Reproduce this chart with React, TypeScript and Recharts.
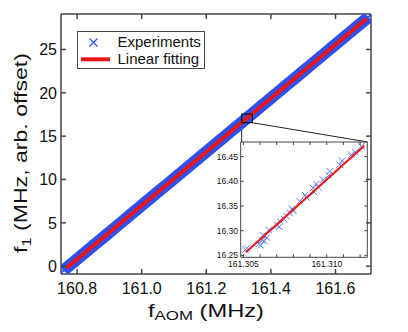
import React from 'react';
import { ScatterChart, Scatter, XAxis, YAxis, ReferenceArea, ReferenceLine, Legend } from 'recharts';

const FONT = '"Liberation Sans", Arial, Helvetica, sans-serif';
const FRAME = '#454545';
const BLUE = '#2f50ee';
const LIGHT_BLUE = '#5b7df6';
const RED = '#ee1414';

// ---- main panel data ----
const EXP_X = [
  160.76, 160.77, 160.79, 160.81, 160.83, 160.85, 160.87, 160.89, 160.91, 160.93, 160.95,
  160.97, 160.99, 161.01, 161.03, 161.05, 161.07, 161.09, 161.11, 161.13, 161.15,
  161.17, 161.19, 161.21, 161.23, 161.25, 161.27, 161.29, 161.31, 161.33, 161.35,
  161.37, 161.39, 161.41, 161.43, 161.45, 161.47, 161.49, 161.51, 161.53, 161.55,
  161.57, 161.59, 161.61, 161.63, 161.65, 161.67, 161.69, 161.70,
];
const EXP_Y = [
  -0.42, -0.11, 0.51, 1.13, 1.75, 2.37, 2.99, 3.6, 4.22, 4.84, 5.46,
  6.08, 6.7, 7.32, 7.94, 8.56, 9.18, 9.79, 10.41, 11.03, 11.65,
  12.27, 12.89, 13.51, 14.13, 14.75, 15.37, 15.98, 16.6, 17.22, 17.84,
  18.46, 19.08, 19.7, 20.32, 20.94, 21.56, 22.17, 22.79, 23.41, 24.03,
  24.65, 25.27, 25.89, 26.51, 27.13, 27.75, 28.36, 28.66,
];
const FIT_X = [160.767, 161.6964];
const FIT_Y = [-0.2, 28.55];

const X_TICKS = [160.8, 161.0, 161.2, 161.4, 161.6];
const Y_TICKS = [0, 5, 10, 15, 20, 25];
const X_DOMAIN = [160.75, 161.71];
const Y_DOMAIN = [-0.9, 29.09];

// zoom box & connectors (in main data coordinates)
const BOX_X = [161.3097, 161.3425];
const BOX_Y = [16.55, 17.55];
const CONNECT_LEFT = [{ x: 161.3095, y: 16.55 }, { x: 161.3095, y: 14.33 }];
const CONNECT_RIGHT = [{ x: 161.3425, y: 16.55 }, { x: 161.6993, y: 14.33 }];

// ---- inset data ----
const INSET_EXP_X = [
  161.30512, 161.3052, 161.30592, 161.30604, 161.30612, 161.30625, 161.30618, 161.3064,
  161.30652, 161.30704, 161.30715, 161.3072, 161.30744, 161.3076, 161.30778, 161.30792,
  161.308, 161.30838, 161.30878, 161.3087, 161.30924, 161.30918, 161.30938, 161.3095,
  161.30978, 161.31012, 161.31018, 161.31078, 161.31092, 161.31147, 161.31171, 161.31207,
];
const INSET_EXP_Y = [
  16.2613, 16.2642, 16.2729, 16.2705, 16.2816, 16.279, 16.2905, 16.286,
  16.3013, 16.3108, 16.308, 16.3189, 16.3235, 16.329, 16.3357, 16.3444,
  16.34, 16.3594, 16.3675, 16.372, 16.3782, 16.3864, 16.3945, 16.388,
  16.4032, 16.4121, 16.4202, 16.4336, 16.4417, 16.4538, 16.4593, 16.4708,
];
const INSET_FIT_X = [161.30515, 161.31225];
const INSET_FIT_Y = [16.256, 16.472];
const INSET_X_TICKS = [161.305, 161.306, 161.307, 161.308, 161.309, 161.31, 161.311, 161.312];
const INSET_X_LABELS = ['161.305', '161.310'];
const INSET_Y_TICKS = [16.25, 16.3, 16.35, 16.4, 16.45];
const INSET_X_DOMAIN = [161.30484, 161.31243];
const INSET_Y_DOMAIN = [16.246, 16.4796];

const zip = (xs: number[], ys: number[]) => xs.map((x, i) => ({ x, y: ys[i] }));

type Side = 'bottom' | 'top' | 'left' | 'right';

function tickRenderer(
  side: Side,
  len: number,
  sw: number,
  label: ((v: number) => string | null) | null,
  fontSize: number,
  gap: number,
) {
  return (props: any) => {
    const { x, y, payload } = props;
    const v = payload.value as number;
    const t = label ? label(v) : null;
    let x2 = x;
    let y2 = y;
    if (side === 'bottom') y2 = y - len;
    if (side === 'top') y2 = y + len;
    if (side === 'left') x2 = x + len;
    if (side === 'right') x2 = x - len;
    return (
      <g>
        <line x1={x} y1={y} x2={x2} y2={y2} stroke={FRAME} strokeWidth={sw} />
        {t !== null && side === 'bottom' && (
          <text x={x} y={y + gap} textAnchor="middle" fontSize={fontSize} fontFamily={FONT} fill="#111">
            {t}
          </text>
        )}
        {t !== null && side === 'left' && (
          <text x={x - gap} y={y + fontSize * 0.36} textAnchor="end" fontSize={fontSize} fontFamily={FONT} fill="#111">
            {t}
          </text>
        )}
      </g>
    );
  };
}

const ExpMarker = (props: any) => {
  const { cx, cy } = props;
  const s = 4;
  return (
    <path
      d={`M${cx - s},${cy - s}L${cx + s},${cy + s}M${cx - s},${cy + s}L${cx + s},${cy - s}`}
      stroke={BLUE}
      strokeWidth={1.8}
    />
  );
};

const InsetMarker = (props: any) => {
  const { cx, cy } = props;
  const s = 3.3;
  return (
    <path
      d={`M${cx - s},${cy - s}L${cx + s},${cy + s}M${cx - s},${cy + s}L${cx + s},${cy - s}`}
      stroke={LIGHT_BLUE}
      strokeWidth={1}
    />
  );
};

const NoMarker = () => <g />;

const renderLegend = (props: any) => {
  const items = (props.payload || []) as any[];
  return (
    <svg width={128} height={38} style={{ display: 'block' }}>
      <rect x={0.5} y={0.5} width={127} height={37} fill="#fff" stroke={FRAME} strokeWidth={1} />
      {items.map((it, i) => {
        const rowY = i === 0 ? 11.5 : 28.3;
        const icon =
          i === 0 ? (
            <path
              d={`M12.5,${rowY - 4}L20.5,${rowY + 4}M12.5,${rowY + 4}L20.5,${rowY - 4}`}
              stroke={BLUE}
              strokeWidth={1.2}
            />
          ) : (
            <line x1={4} y1={rowY} x2={33} y2={rowY} stroke={RED} strokeWidth={4} />
          );
        return (
          <g key={i}>
            {icon}
            <text x={40.5} y={rowY + 4.6} fontSize={15} fontFamily={FONT} fill="#111">
              {it.value}
            </text>
          </g>
        );
      })}
    </svg>
  );
};

const XTitle = () => (
  <text x={148} y={316.7} fontSize={19} fontFamily={FONT} fill="#111" textLength={116} lengthAdjust="spacingAndGlyphs">
    <tspan>f</tspan>
    <tspan fontSize={13.5} dy={3.5}>AOM</tspan>
    <tspan dy={-3.5}> (MHz)</tspan>
  </text>
);

const YTitle = () => (
  <text
    transform="translate(27,253) rotate(-90)"
    x={0}
    y={0}
    fontSize={19}
    fontFamily={FONT}
    fill="#111"
    textLength={200}
    lengthAdjust="spacingAndGlyphs"
  >
    <tspan>f</tspan>
    <tspan fontSize={13.5} dy={3.5}>1</tspan>
    <tspan dy={-3.5}> (MHz, arb. offset)</tspan>
  </text>
);

const axisLine = { stroke: FRAME, strokeWidth: 1.5 };
const insetAxisLine = { stroke: FRAME, strokeWidth: 1 };

export default function App() {
  const expData = zip(EXP_X, EXP_Y);
  const fitData = zip(FIT_X, FIT_Y);
  const insetExp = zip(INSET_EXP_X, INSET_EXP_Y);
  const insetFit = zip(INSET_FIT_X, INSET_FIT_Y);

  return (
    <div style={{ position: 'relative', width: 408, height: 332, background: '#fff', fontFamily: FONT }}>
      <style>{`body{margin:0}`}</style>
      <div style={{ position: 'absolute', left: 0, top: 0 }}>
        <ScatterChart width={408} height={332} margin={{ top: 13, right: 36, bottom: 57, left: 60 }}>
          <XAxis
            xAxisId="b"
            type="number"
            dataKey="x"
            orientation="bottom"
            domain={X_DOMAIN}
            ticks={X_TICKS}
            interval={0}
            height={1}
            tickSize={0}
            tickMargin={0}
            tickLine={false}
            axisLine={axisLine}
            allowDataOverflow
            tick={tickRenderer('bottom', 5, 1.5, (v) => v.toFixed(1), 16, 19.5)}
            label={<XTitle />}
          />
          <XAxis
            xAxisId="t"
            type="number"
            dataKey="x"
            orientation="top"
            domain={X_DOMAIN}
            ticks={X_TICKS}
            interval={0}
            height={1}
            tickSize={0}
            tickMargin={0}
            tickLine={false}
            axisLine={axisLine}
            allowDataOverflow
            tick={tickRenderer('top', 5, 1.5, null, 16, 0)}
          />
          <YAxis
            yAxisId="l"
            type="number"
            dataKey="y"
            orientation="left"
            domain={Y_DOMAIN}
            ticks={Y_TICKS}
            interval={0}
            width={1}
            tickSize={0}
            tickMargin={0}
            tickLine={false}
            axisLine={axisLine}
            allowDataOverflow
            tick={tickRenderer('left', 5, 1.5, (v) => String(v), 16, 4)}
            label={<YTitle />}
          />
          <YAxis
            yAxisId="r"
            type="number"
            dataKey="y"
            orientation="right"
            domain={Y_DOMAIN}
            ticks={Y_TICKS}
            interval={0}
            width={1}
            tickSize={0}
            tickMargin={0}
            tickLine={false}
            axisLine={axisLine}
            allowDataOverflow
            tick={tickRenderer('right', 5, 1.5, null, 16, 0)}
          />
          <Scatter
            name="Experiments"
            data={expData}
            xAxisId="b"
            yAxisId="l"
            fill={BLUE}
            shape={ExpMarker}
            line={{ stroke: BLUE, strokeWidth: 12 }}
            lineType="joint"
            isAnimationActive={false}
          />
          <Scatter
            name="Linear fitting"
            data={fitData}
            xAxisId="b"
            yAxisId="l"
            fill={RED}
            shape={NoMarker}
            line={{ stroke: RED, strokeWidth: 4 }}
            lineType="joint"
            isAnimationActive={false}
          />
          <ReferenceArea
            xAxisId="b"
            yAxisId="l"
            x1={BOX_X[0]}
            x2={BOX_X[1]}
            y1={BOX_Y[0]}
            y2={BOX_Y[1]}
            fill="none"
            fillOpacity={0}
            stroke="#111"
            strokeWidth={1.2}
            ifOverflow="visible"
            zIndex={1000}
          />
          <ReferenceLine xAxisId="b" yAxisId="l" segment={CONNECT_LEFT} stroke="#222" strokeWidth={1} ifOverflow="visible" />
          <ReferenceLine xAxisId="b" yAxisId="l" segment={CONNECT_RIGHT} stroke="#222" strokeWidth={1} ifOverflow="visible" />
          <Legend
            layout="vertical"
            align="center"
            verticalAlign="middle"
            wrapperStyle={{ left: 76.7, top: 31, width: 128, height: 38 }}
            content={renderLegend}
          />
        </ScatterChart>
      </div>

      <div style={{ position: 'absolute', left: 200, top: 134 }}>
        <ScatterChart width={175} height={136} margin={{ top: 7, right: 6.7, bottom: 11.7, left: 39.7 }}>
          <XAxis
            xAxisId="b"
            type="number"
            dataKey="x"
            orientation="bottom"
            domain={INSET_X_DOMAIN}
            ticks={INSET_X_TICKS}
            interval={0}
            height={1}
            tickSize={0}
            tickMargin={0}
            tickLine={false}
            axisLine={insetAxisLine}
            allowDataOverflow
            tick={tickRenderer(
              'bottom',
              3,
              1,
              (v) => (INSET_X_LABELS.includes(v.toFixed(3)) ? v.toFixed(3) : null),
              8.5,
              10,
            )}
          />
          <XAxis
            xAxisId="t"
            type="number"
            dataKey="x"
            orientation="top"
            domain={INSET_X_DOMAIN}
            ticks={INSET_X_TICKS}
            interval={0}
            height={1}
            tickSize={0}
            tickMargin={0}
            tickLine={false}
            axisLine={insetAxisLine}
            allowDataOverflow
            tick={tickRenderer('top', 3, 1, null, 8.5, 0)}
          />
          <YAxis
            yAxisId="l"
            type="number"
            dataKey="y"
            orientation="left"
            domain={INSET_Y_DOMAIN}
            ticks={INSET_Y_TICKS}
            interval={0}
            width={1}
            tickSize={0}
            tickMargin={0}
            tickLine={false}
            axisLine={insetAxisLine}
            allowDataOverflow
            tick={tickRenderer('left', 3, 1, (v) => v.toFixed(2), 8.5, 2.7)}
          />
          <YAxis
            yAxisId="r"
            type="number"
            dataKey="y"
            orientation="right"
            domain={INSET_Y_DOMAIN}
            ticks={INSET_Y_TICKS}
            interval={0}
            width={1}
            tickSize={0}
            tickMargin={0}
            tickLine={false}
            axisLine={insetAxisLine}
            allowDataOverflow
            tick={tickRenderer('right', 3, 1, null, 8.5, 0)}
          />
          <Scatter
            name="Experiments"
            data={insetExp}
            xAxisId="b"
            yAxisId="l"
            fill={LIGHT_BLUE}
            shape={InsetMarker}
            isAnimationActive={false}
          />
          <Scatter
            name="Linear fitting"
            data={insetFit}
            xAxisId="b"
            yAxisId="l"
            fill={RED}
            shape={NoMarker}
            line={{ stroke: RED, strokeWidth: 2 }}
            lineType="joint"
            isAnimationActive={false}
          />
        </ScatterChart>
      </div>
    </div>
  );
}
